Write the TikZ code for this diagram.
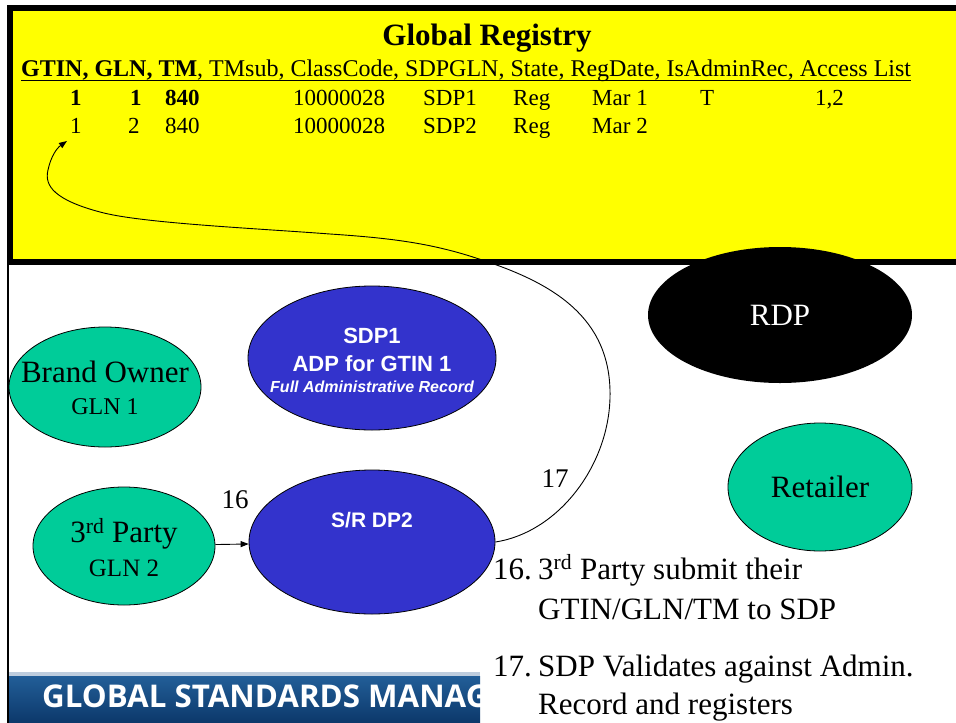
\documentclass[tikz,border=0pt]{standalone}
\usepackage{fontspec}
\setmainfont{Liberation Serif}
\newfontfamily\arialfont{Liberation Sans}
\newfontfamily\bannerfont{Open Sans}
\usetikzlibrary{shapes.geometric,arrows.meta}

\definecolor{regyellow}{RGB}{255,255,0}
\definecolor{partygreen}{RGB}{0,204,153}
\definecolor{dpblue}{RGB}{51,51,204}
\definecolor{bannertop}{RGB}{34,94,152}
\definecolor{bannerbot}{RGB}{12,56,106}
\definecolor{bannerline}{RGB}{190,205,222}

\newcommand{\setfs}[2]{\fontsize{#1}{#2}\selectfont}

\begin{document}
\begin{tikzpicture}[x=1pt,y=-1pt,
  party/.style={ellipse, draw=black, line width=0.8pt, fill=partygreen, inner sep=0pt},
  dp/.style={ellipse, draw=black, line width=0.8pt, fill=dpblue, inner sep=0pt},
  inside/.style={inner sep=0pt, align=center},
  dptext/.style={inside, text=white},
  cell/.style={anchor=base west, inner sep=0pt, font=\setfs{23}{27}},
  bcell/.style={anchor=base west, inner sep=0pt, font=\setfs{23}{27}\bfseries},
  note/.style={anchor=base west, inner sep=0pt, font=\setfs{31}{36}},
  steplabel/.style={inner sep=0pt, font=\setfs{27}{30}},
  flow/.style={line width=0.9pt, -{Triangle[length=8pt,width=6pt]}},
]
\useasboundingbox (0,0) rectangle (956,723);
\fill[white] (0,0) rectangle (956,723);

% registry panel
\draw[line width=5.5pt, fill=regyellow] (9.75,7.75) rectangle (975,262);
\draw[line width=2pt] (8,262) -- (8,723);

\node[anchor=base, inner sep=0pt, font=\setfs{31}{36}\bfseries] (title) at (487,45) {Global Registry};
\node[anchor=base west, inner sep=0pt, font=\setfs{24}{28}] (hdr) at (21,76)
  {\textbf{GTIN, GLN, TM}, TMsub, ClassCode, SDPGLN, State, RegDate, IsAdminRec, Access List};
\draw[line width=1.6pt] ([yshift=-4.5pt]hdr.base west) -- ([yshift=-4.5pt]hdr.base east);

% row 1
\node[bcell] (r1gtin) at (70,105) {1};
\node[bcell] (r1gln)  at (130,105) {1};
\node[bcell] (r1tm)   at (165,105) {840};
\node[cell]  (r1cls)  at (293,105) {10000028};
\node[cell]  (r1sdp)  at (423,105) {SDP1};
\node[cell]  (r1st)   at (513,105) {Reg};
\node[cell]  (r1date) at (592,105) {Mar 1};
\node[cell]  (r1adm)  at (700,105) {T};
\node[cell]  (r1acc)  at (815,105) {1,2};
% row 2
\node[cell] (r2gtin) at (70,133) {1};
\node[cell] (r2gln)  at (128,133) {2};
\node[cell] (r2tm)   at (165,133) {840};
\node[cell] (r2cls)  at (293,133) {10000028};
\node[cell] (r2sdp)  at (423,133) {SDP2};
\node[cell] (r2st)   at (513,133) {Reg};
\node[cell] (r2date) at (592,133) {Mar 2};
\coordinate (regtip) at (67,141);

% parties and data pools
\node[ellipse, fill=black, inner sep=0pt, minimum width=264pt, minimum height=136pt] (rdp) at (780,315) {};
\node[inside, text=white, font=\setfs{31}{36}] (rdptxt) at (rdp.center) {RDP};

\node[party, minimum width=184pt, minimum height=128pt] (retail) at (820,487) {};
\node[inside, font=\setfs{31}{36}] (retailtxt) at (retail.center) {Retailer};

\node[party, minimum width=192pt, minimum height=120pt] (brand) at (105,387) {};
\node[inside, font=\setfs{31}{32}] (brandtxt) at (105,388)
  {Brand Owner\\\setfs{24}{32}GLN 1};

\node[dp, minimum width=248pt, minimum height=144pt] (sdp1) at (372,358) {};
\node[dptext, font=\arialfont\bfseries\setfs{22}{21}] (sdp1txt) at (372,360)
  {SDP1\\[7pt]ADP for GTIN 1\\\setfs{16}{21}\itshape Full Administrative Record};

\node[party, minimum width=182pt, minimum height=118pt] (third) at (124,546) {};
\node[inside, font=\setfs{31}{34}] (thirdtxt) at (124,548)
  {3\textsuperscript{rd} Party\\\setfs{25}{34}GLN 2};

\node[dp, minimum width=246pt, minimum height=144pt] (sr) at (372,542) {};
\node[dptext, font=\arialfont\bfseries\setfs{21}{25}] (srtxt) at (372,520) {S/R DP2};

% flows
\draw[flow] (third) -- (sr);
\node[steplabel] (lab16) at (235,500) {16};
\draw[flow] (sr.east)
  .. controls (560,532) and (612,462) .. (610,390)
  .. controls (608,312) and (545,280) .. (476,258)
  .. controls (430,243) and (390,238) .. (330,234)
  .. controls (250,228) and (140,223) .. (100,212)
  .. controls (55,200) and (44,186) .. (48,170)
  .. controls (51,156) and (57,148) .. (regtip);
\node[steplabel] (lab17) at (555,479) {17};

% step notes
\node[note] (n16num) at (493,579) {16.};
\node[note] (n16a)   at (538,579) {3\textsuperscript{rd} Party submit their};
\node[note] (n16b)   at (538,619) {GTIN/GLN/TM to SDP};
\node[note] (n17num) at (493,676) {17.};
\node[note] (n17a)   at (538,676) {SDP Validates against Admin.};
\node[note] (n17b)   at (538,714) {Record and registers};

% banner strip
\begin{scope}
  \clip (9,672) rectangle (480,723);
  \shade[top color=bannertop, bottom color=bannerbot] (9,676) rectangle (480,723);
  \fill[bannerline] (9,672) rectangle (480,676);
  \node[anchor=base west, inner sep=0pt, text=white, font=\bannerfont\bfseries\setfs{31.3}{36}] (banner) at (42,707)
    {GLOBAL STANDARDS MANAG};
\end{scope}
\end{tikzpicture}
\end{document}
